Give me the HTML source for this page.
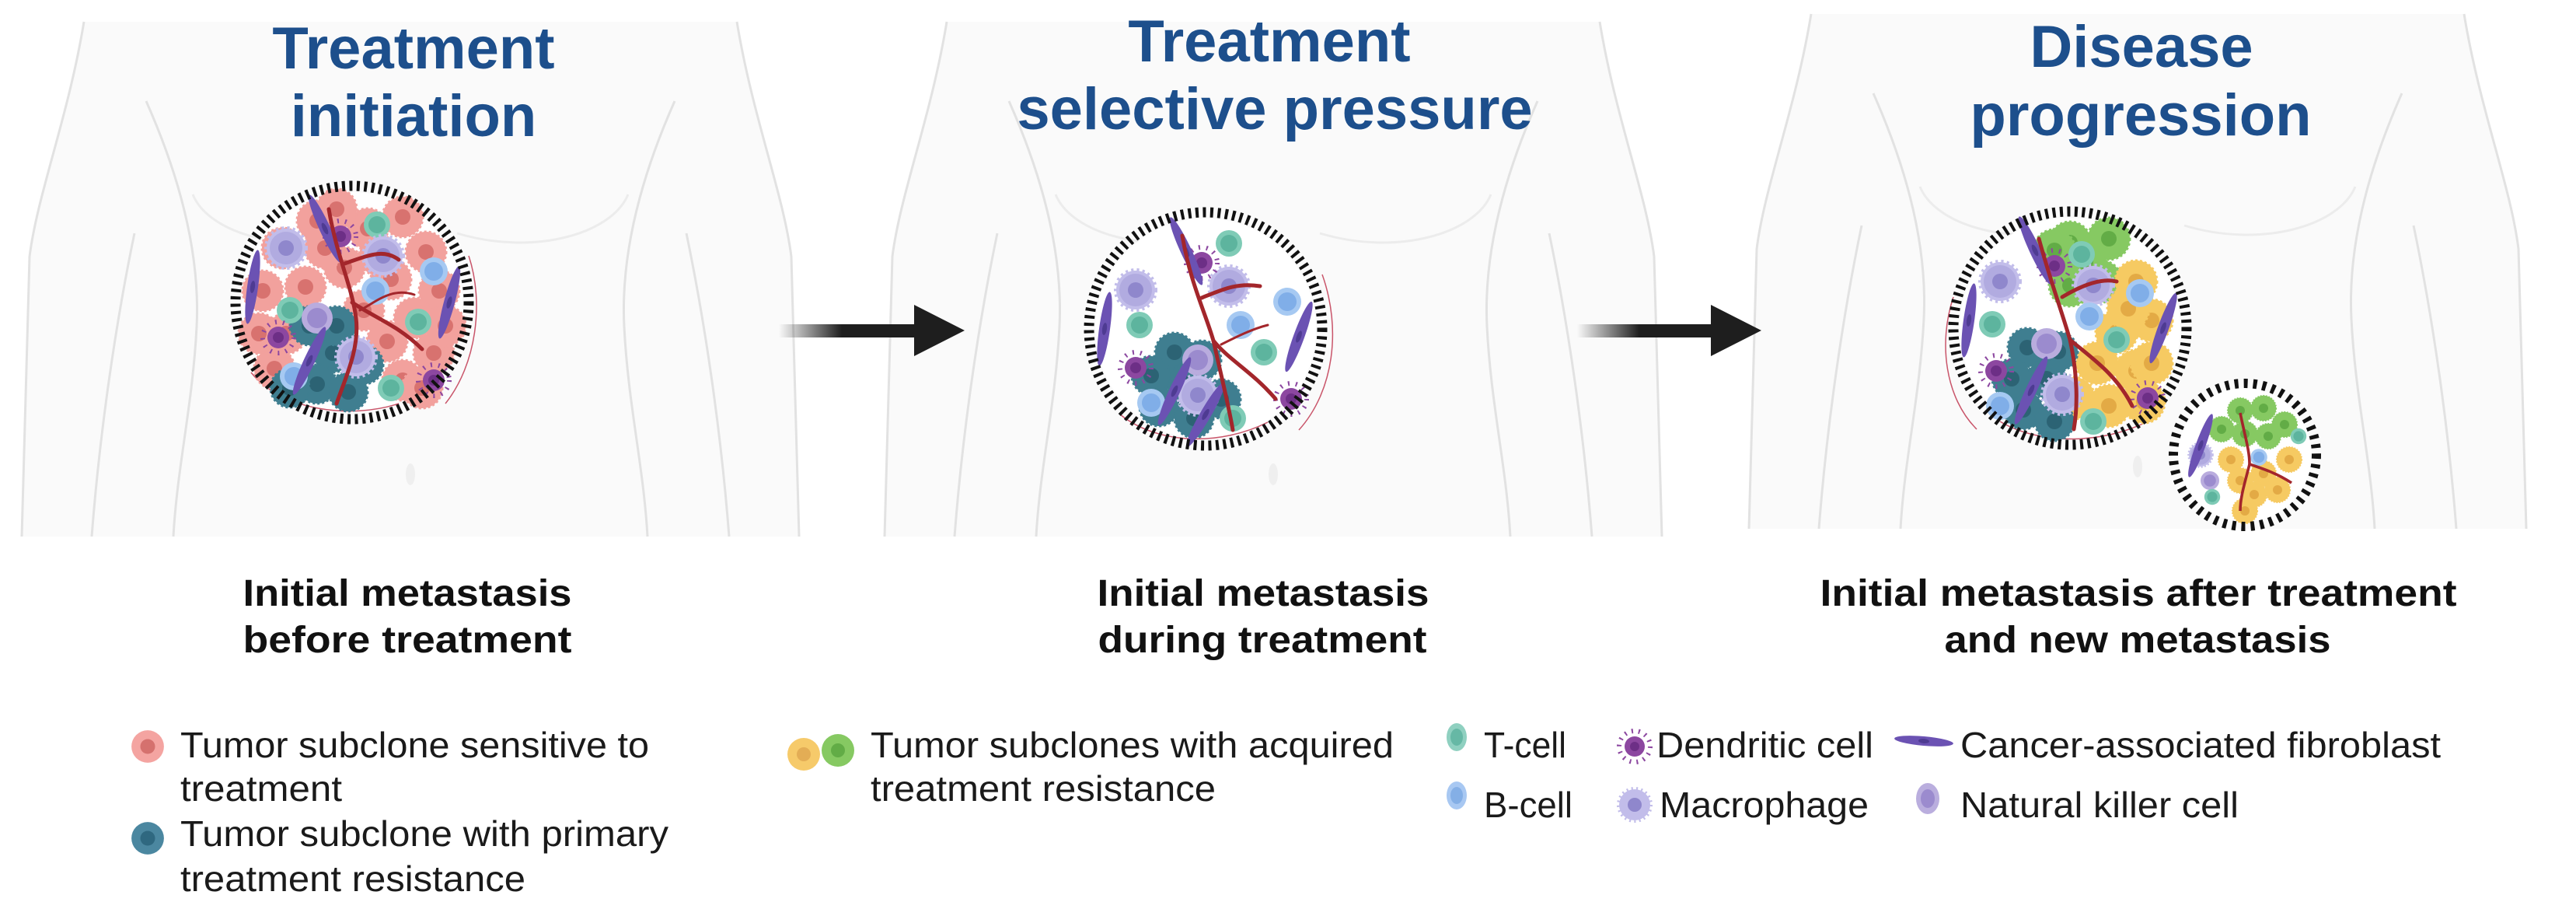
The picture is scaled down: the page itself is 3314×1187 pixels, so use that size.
<!DOCTYPE html>
<html><head><meta charset="utf-8"><style>
html,body{margin:0;padding:0;background:#fff;}
svg{display:block;}
text{font-family:"Liberation Sans",sans-serif;}
</style></head><body>
<svg width="3314" height="1187" viewBox="0 0 3314 1187" xmlns="http://www.w3.org/2000/svg">
<defs>
<linearGradient id="ag" x1="0" x2="1" y1="0" y2="0">
<stop offset="0" stop-color="#1e1e1e" stop-opacity="0"/>
<stop offset="0.45" stop-color="#1e1e1e" stop-opacity="1"/>
<stop offset="1" stop-color="#1e1e1e"/>
</linearGradient>
<g id="body">
<path d="M-420,28 C-440,150 -480,250 -490,330 L-500,690 L500,690 L490,330 C480,250 440,150 420,28 Z" fill="#fafafa"/>
<g fill="none" stroke="#e2e2e2" stroke-width="3">
<path d="M-420,28 C-440,150 -480,250 -490,330 L-500,690"/>
<path d="M420,28 C440,150 480,250 490,330 L500,690"/>
<path d="M-340,130 C-300,220 -270,320 -275,420 C-280,520 -300,600 -305,690"/>
<path d="M340,130 C300,220 270,320 275,420 C280,520 300,600 305,690"/>
<path d="M-355,300 C-380,420 -400,560 -410,690"/>
<path d="M355,300 C380,420 400,560 410,690"/>
<path d="M-280,250 C-260,300 -160,330 -60,300" stroke="#ececec"/>
<path d="M280,250 C260,300 160,330 60,300" stroke="#ececec"/>
</g>
<ellipse cx="0" cy="610" rx="6" ry="14" fill="#efefef"/>
</g>
<g id="pk"><circle r="26" fill="#f2a19d" stroke="#f2a19d" stroke-width="3" stroke-dasharray="3 3"/><circle r="10" fill="#d8726f"/></g>
<g id="tl"><circle r="25" fill="#3f7e90" stroke="#3f7e90" stroke-width="3" stroke-dasharray="3 3"/><circle r="10" fill="#2c6374"/></g>
<g id="yl"><circle r="27" fill="#f6ca62" stroke="#f6ca62" stroke-width="3" stroke-dasharray="3 3"/><circle r="10" fill="#e3aa45"/></g>
<g id="gr"><circle r="27" fill="#86c962" stroke="#86c962" stroke-width="3" stroke-dasharray="3 3"/><circle r="10" fill="#62ac46"/></g>
<g id="tc"><circle r="17" fill="#7fcbb6"/><circle r="11" fill="#5db49e"/></g>
<g id="bc"><circle r="18" fill="#a6c9f2"/><circle r="12" fill="#80aee8"/></g>
<g id="nk"><circle r="20" fill="#b9acde"/><circle r="13" fill="#9b8bce"/></g>
<g id="mc"><circle r="25" fill="#c2bdea" stroke="#c2bdea" stroke-width="6" stroke-dasharray="3 4"/><circle r="21" fill="#b1abe0"/><circle r="10" fill="#8f87cc"/></g>
<g id="dc"><circle r="20" fill="none" stroke="#8c47a0" stroke-width="6" stroke-dasharray="2 8"/><circle r="14" fill="#8c47a0"/><circle r="7" fill="#6d2f86"/></g>
<g id="fb"><ellipse rx="7" ry="48" fill="#6b52b3"/><ellipse rx="3" ry="8" fill="#4e3b92"/></g>
</defs>

<use href="#body" x="528" y="0"/>
<use href="#body" x="1638" y="0"/>
<use href="#body" x="2750" y="-10"/>

<g font-weight="bold" fill="#1d4f8c" font-size="76" text-anchor="middle">
<text x="532" y="88">Treatment</text>
<text x="532" y="175">initiation</text>
<text x="1633" y="79">Treatment</text>
<text x="1640" y="166">selective pressure</text>
<text x="2755" y="86">Disease</text>
<text x="2754" y="174">progression</text>
</g>

<rect x="1002" y="417" width="180" height="17" fill="url(#ag)"/>
<polygon points="1176,392 1241,425 1176,458" fill="#1e1e1e"/>
<rect x="2029" y="417" width="178" height="17" fill="url(#ag)"/>
<polygon points="2201,392 2266,425 2201,458" fill="#1e1e1e"/>

<!-- Panel 1 tumor -->
<g transform="translate(453,389)">
<circle r="142" fill="#fff"/>
<g stroke="#c9556a" stroke-width="1.5" fill="none"><path d="M150,-60 C170,0 160,80 120,130"/><path d="M-130,90 C-90,140 0,150 60,130"/></g>
<use href="#pk" x="-90" y="-70"/><use href="#pk" x="-115" y="-15"/><use href="#pk" x="-85" y="40"/><use href="#pk" x="-100" y="85"/>
<use href="#pk" x="20" y="-95"/><use href="#pk" x="65" y="-110"/><use href="#pk" x="95" y="-65"/><use href="#pk" x="112" y="-15"/>
<use href="#pk" x="80" y="20"/><use href="#pk" x="105" y="65"/><use href="#pk" x="45" y="50"/><use href="#pk" x="65" y="100"/>
<use href="#pk" x="-10" y="-45"/><use href="#pk" x="-45" y="-105"/><use href="#pk" x="15" y="10"/><use href="#pk" x="-60" y="-20"/><use href="#pk" x="50" y="-30"/>
<use href="#pk" x="-120" y="40"/><use href="#pk" x="120" y="30"/><use href="#pk" x="90" y="110"/><use href="#pk" x="-20" y="-120"/><use href="#pk" x="35" y="-60"/><use href="#pk" x="-35" y="-70"/>
<use href="#tl" x="-55" y="30"/><use href="#tl" x="-25" y="65"/><use href="#tl" x="-45" y="105"/><use href="#tl" x="-5" y="115"/><use href="#tl" x="15" y="80"/><use href="#tl" x="-80" y="110"/><use href="#tl" x="-20" y="30"/>
<use href="#tc" x="-80" y="10"/><use href="#tc" x="85" y="25"/><use href="#tc" x="50" y="110"/><use href="#tc" x="32" y="-100"/>
<use href="#bc" x="-75" y="95"/><use href="#bc" x="30" y="-15"/><use href="#bc" x="105" y="-40"/>
<use href="#mc" x="-85" y="-70"/><use href="#mc" x="40" y="-60"/><use href="#mc" x="5" y="70"/>
<use href="#dc" x="-15" y="-85"/><use href="#dc" x="-95" y="45"/><use href="#dc" x="105" y="100"/>
<use href="#nk" x="-45" y="20"/>
<use href="#fb" transform="translate(-35,-95) rotate(-25)"/><use href="#fb" transform="translate(-55,75) rotate(25)"/>
<use href="#fb" transform="translate(125,0) rotate(15)"/><use href="#fb" transform="translate(-128,-20) rotate(8)"/>
<g stroke="#a3262b" stroke-width="5" fill="none" stroke-linecap="round"><path d="M-30,-120 C-20,-60 0,-20 5,20 C10,60 -10,100 -20,130"/><path d="M0,0 C30,20 60,30 90,60"/><path d="M-10,-50 C20,-60 40,-70 60,-55"/><path d="M10,10 C30,0 50,-20 80,-10" stroke-width="3"/></g>
<circle r="150" fill="none" stroke="#111" stroke-width="13" stroke-dasharray="4 5.5"/>
</g>

<!-- Panel 2 tumor -->
<g transform="translate(1551,423)">
<circle r="142" fill="#fff"/>
<g stroke="#c9556a" stroke-width="1.5" fill="none"><path d="M150,-70 C175,0 165,80 120,130"/><path d="M-110,110 C-60,150 20,150 80,120"/></g>
<use href="#tl" x="-40" y="30"/><use href="#tl" x="-25" y="70"/><use href="#tl" x="-60" y="100"/><use href="#tl" x="-15" y="115"/><use href="#tl" x="20" y="90"/><use href="#tl" x="-5" y="40"/><use href="#tl" x="-70" y="60"/>
<use href="#mc" x="-90" y="-50"/><use href="#mc" x="30" y="-55"/><use href="#mc" x="-10" y="85"/>
<use href="#dc" x="-5" y="-85"/><use href="#dc" x="-90" y="50"/><use href="#dc" x="110" y="90"/>
<use href="#tc" x="30" y="-110"/><use href="#tc" x="-85" y="-5"/><use href="#tc" x="75" y="30"/><use href="#tc" x="35" y="115"/>
<use href="#bc" x="105" y="-35"/><use href="#bc" x="45" y="-5"/><use href="#bc" x="-70" y="95"/>
<use href="#nk" x="-10" y="40"/>
<use href="#fb" transform="translate(-25,-100) rotate(-25)"/><use href="#fb" transform="translate(120,10) rotate(20)"/>
<use href="#fb" transform="translate(-130,0) rotate(8)"/><use href="#fb" transform="translate(-40,80) rotate(25)"/><use href="#fb" transform="translate(0,110) rotate(30)"/>
<g stroke="#a3262b" stroke-width="5" fill="none" stroke-linecap="round"><path d="M-30,-120 C-20,-60 0,-20 10,15 C30,40 60,55 90,90"/><path d="M10,15 C20,60 30,100 35,130"/><path d="M-5,-40 C20,-50 40,-60 70,-55"/><path d="M20,20 C40,10 60,0 80,-5" stroke-width="3"/></g>
<circle r="150" fill="none" stroke="#111" stroke-width="13" stroke-dasharray="4 5.5"/>
</g>

<!-- Panel 3 big tumor -->
<g transform="translate(2663,422)">
<circle r="142" fill="#fff"/>
<g stroke="#c9556a" stroke-width="1.5" fill="none"><path d="M-150,-40 C-170,20 -160,90 -120,130"/><path d="M-90,120 C-40,150 40,150 100,120"/></g>
<use href="#gr" x="0" y="-110"/><use href="#gr" x="50" y="-115"/><use href="#gr" x="40" y="-60"/><use href="#gr" x="0" y="-55"/><use href="#gr" x="-20" y="-100"/><use href="#gr" x="20" y="-85"/>
<use href="#yl" x="85" y="-60"/><use href="#yl" x="105" y="-10"/><use href="#yl" x="60" y="5"/><use href="#yl" x="85" y="55"/><use href="#yl" x="35" y="45"/><use href="#yl" x="50" y="100"/><use href="#yl" x="105" y="45"/><use href="#yl" x="5" y="90"/><use href="#yl" x="75" y="-25"/><use href="#yl" x="95" y="95"/>
<use href="#tl" x="-55" y="25"/><use href="#tl" x="-30" y="65"/><use href="#tl" x="-60" y="105"/><use href="#tl" x="-20" y="120"/><use href="#tl" x="-15" y="30"/><use href="#tl" x="-75" y="65"/>
<use href="#mc" x="-90" y="-60"/><use href="#mc" x="30" y="-55"/><use href="#mc" x="-10" y="85"/>
<use href="#dc" x="-20" y="-80"/><use href="#dc" x="-95" y="55"/><use href="#dc" x="100" y="90"/>
<use href="#tc" x="-100" y="-5"/><use href="#tc" x="15" y="-95"/><use href="#tc" x="60" y="15"/><use href="#tc" x="30" y="120"/>
<use href="#bc" x="-90" y="100"/><use href="#bc" x="25" y="-15"/><use href="#bc" x="90" y="-45"/>
<use href="#nk" x="-30" y="20"/>
<use href="#fb" transform="translate(-45,-100) rotate(-25)"/><use href="#fb" transform="translate(-130,-10) rotate(8)"/><use href="#fb" transform="translate(-50,80) rotate(25)"/><use href="#fb" transform="translate(120,0) rotate(20)"/>
<g stroke="#a3262b" stroke-width="5" fill="none" stroke-linecap="round"><path d="M-40,-115 C-25,-60 -10,-20 0,15 C30,40 60,60 80,100"/><path d="M0,15 C10,60 10,100 5,130"/><path d="M-10,-40 C15,-55 40,-65 60,-60"/></g>
<circle r="150" fill="none" stroke="#111" stroke-width="13" stroke-dasharray="4 5.5"/>
</g>

<!-- Panel 3 small tumor -->
<g transform="translate(2888,585)">
<circle r="86" fill="#fff"/>
<g transform="scale(0.6)">
<use href="#gr" x="-10" y="-95"/><use href="#gr" x="40" y="-100"/><use href="#gr" x="50" y="-40"/><use href="#gr" x="0" y="-45"/><use href="#gr" x="-50" y="-55"/><use href="#gr" x="85" y="-65"/>
<use href="#yl" x="-30" y="10"/><use href="#yl" x="40" y="40"/><use href="#yl" x="95" y="10"/><use href="#yl" x="20" y="85"/><use href="#yl" x="70" y="75"/><use href="#yl" x="-10" y="55"/><use href="#yl" x="0" y="120"/>
<use href="#mc" x="-95" y="0"/><use href="#nk" x="-75" y="55"/><use href="#tc" x="115" y="-40"/><use href="#tc" x="-70" y="90"/><use href="#bc" x="30" y="5"/>
<use href="#fb" transform="translate(-95,-20) scale(1.5) rotate(20)"/>
<g stroke="#a3262b" stroke-width="6" fill="none"><path d="M-10,-90 C0,-40 10,-10 10,20 C40,30 70,40 100,60"/><path d="M10,20 C0,60 -10,90 -10,120"/></g>
</g>
<circle r="92" fill="none" stroke="#111" stroke-width="12" stroke-dasharray="5 7"/>
</g>

<g font-weight="bold" font-size="48" fill="#111" text-anchor="middle">
<text x="524" y="779" textLength="423" lengthAdjust="spacingAndGlyphs">Initial metastasis</text>
<text x="524" y="839" textLength="423" lengthAdjust="spacingAndGlyphs">before treatment</text>
<text x="1625" y="779" textLength="427" lengthAdjust="spacingAndGlyphs">Initial metastasis</text>
<text x="1624" y="839" textLength="423" lengthAdjust="spacingAndGlyphs">during treatment</text>
<text x="2751" y="779" textLength="819" lengthAdjust="spacingAndGlyphs">Initial metastasis after treatment</text>
<text x="2750" y="839" textLength="497" lengthAdjust="spacingAndGlyphs">and new metastasis</text>
</g>

<g font-size="46" fill="#1a1a1a">
<text x="232" y="974" textLength="603" lengthAdjust="spacingAndGlyphs">Tumor subclone sensitive to</text>
<text x="232" y="1030" textLength="208" lengthAdjust="spacingAndGlyphs">treatment</text>
<text x="232" y="1088" textLength="628" lengthAdjust="spacingAndGlyphs">Tumor subclone with primary</text>
<text x="232" y="1146" textLength="444" lengthAdjust="spacingAndGlyphs">treatment resistance</text>
<text x="1120" y="974" textLength="673" lengthAdjust="spacingAndGlyphs">Tumor subclones with acquired</text>
<text x="1120" y="1030" textLength="444" lengthAdjust="spacingAndGlyphs">treatment resistance</text>
<text x="1909" y="974" textLength="106" lengthAdjust="spacingAndGlyphs">T-cell</text>
<text x="1909" y="1051" textLength="114" lengthAdjust="spacingAndGlyphs">B-cell</text>
<text x="2131" y="974" textLength="279" lengthAdjust="spacingAndGlyphs">Dendritic cell</text>
<text x="2135" y="1051" textLength="269" lengthAdjust="spacingAndGlyphs">Macrophage</text>
<text x="2522" y="974" textLength="618" lengthAdjust="spacingAndGlyphs">Cancer-associated fibroblast</text>
<text x="2522" y="1051" textLength="358" lengthAdjust="spacingAndGlyphs">Natural killer cell</text>
</g>
<g>
<g transform="translate(190,960) scale(0.95)"><circle r="22" fill="#f4a4a1"/><circle r="10" fill="#d5716e"/></g>
<g transform="translate(190,1078) scale(0.95)"><circle r="22" fill="#4b87a0"/><circle r="10" fill="#2f6880"/></g>
<g transform="translate(1034,970)"><circle r="21" fill="#f6ca6a"/><circle r="9" fill="#e3ad55"/></g>
<g transform="translate(1078,965)"><circle r="21" fill="#86c962"/><circle r="9" fill="#62ac46"/></g>
<g transform="translate(1874,948)"><ellipse rx="13" ry="18" fill="#8fd0c0"/><ellipse rx="8" ry="11" fill="#66b8a5"/></g>
<g transform="translate(1874,1023)"><ellipse rx="13" ry="18" fill="#a8c8f2"/><ellipse rx="8" ry="11" fill="#84afe6"/></g>
<g transform="translate(2103,960)"><circle r="20" fill="none" stroke="#8c47a0" stroke-width="6" stroke-dasharray="2 7"/><circle r="13" fill="#8c47a0"/><circle r="6" fill="#6d2f86"/></g>
<g transform="translate(2103,1035)"><circle r="20" fill="#c2bdea" stroke="#c2bdea" stroke-width="6" stroke-dasharray="2 4"/><circle r="9" fill="#8f87cc"/></g>
<g transform="translate(2475,953) rotate(-85)"><ellipse rx="6" ry="38" fill="#6b52b3"/><ellipse rx="3" ry="7" fill="#4e3b92"/></g>
<g transform="translate(2480,1027)"><ellipse rx="15" ry="20" fill="#baaede"/><ellipse rx="9" ry="12" fill="#9b8bce"/></g>
</g>
</svg>
</body></html>
